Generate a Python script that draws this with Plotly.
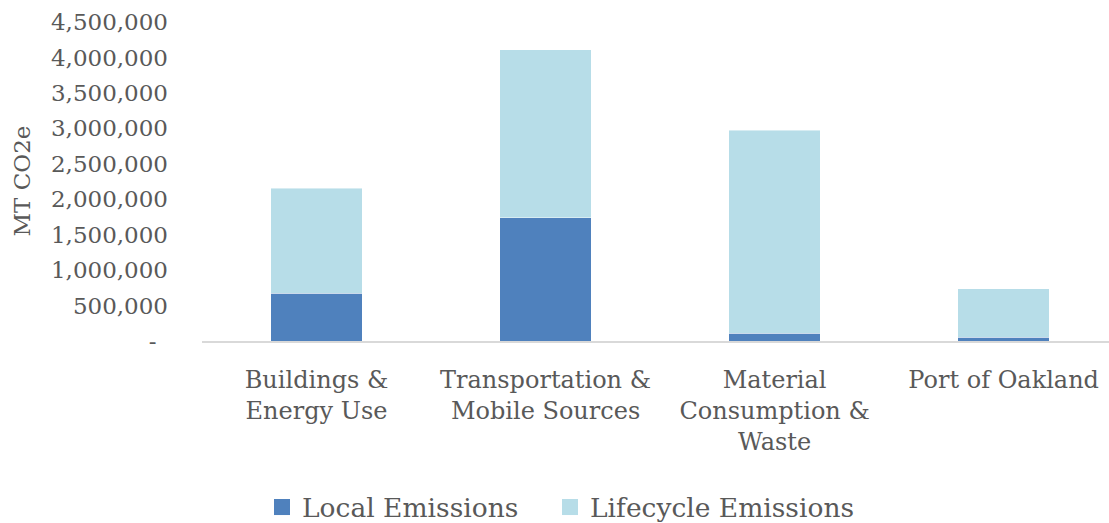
import plotly.graph_objects as go

# Emissions by sector, metric tons CO2e
categories = [
    "Buildings &<br>Energy Use",
    "Transportation &<br>Mobile Sources",
    "Material<br>Consumption &<br>Waste",
    "Port of Oakland",
]
local_emissions = [675000, 1740000, 112000, 50000]
lifecycle_emissions = [1478000, 2366000, 2864000, 690000]

series_names = ["Local Emissions", "Lifecycle Emissions"]
series_colors = ["#4F81BD", "#B7DDE8"]

y_tick_values = [0, 500000, 1000000, 1500000, 2000000, 2500000,
                 3000000, 3500000, 4000000, 4500000]
y_tick_text = ["-\u2002" if v == 0 else f"{v:,}" for v in y_tick_values]

FONT = "DejaVu Serif"
TEXT_COLOR = "#595959"
EDGE = dict(color="rgba(255,255,255,0.45)", width=1)

fig = go.Figure()
for name, values, color in zip(series_names,
                               [local_emissions, lifecycle_emissions],
                               series_colors):
    fig.add_trace(go.Bar(
        x=categories, y=values, name=name, showlegend=False,
        marker=dict(color=color, line=EDGE),
    ))

# square legend keys, one legend box per series
legend_ids = ["legend", "legend2"]
for name, color, lg in zip(series_names, series_colors, legend_ids):
    fig.add_trace(go.Scatter(
        x=[None], y=[None], mode="markers", name=name, legend=lg,
        marker=dict(symbol="square", size=17, color=color),
    ))

legend_style = dict(
    orientation="h", xref="container", yref="container",
    xanchor="left", y=0.03, yanchor="middle",
    font=dict(size=26.5, family=FONT, color=TEXT_COLOR),
    bgcolor="rgba(0,0,0,0)",
)

fig.update_layout(
    barmode="stack",
    bargap=0.6,
    width=1109, height=523,
    margin=dict(l=202, r=0, t=22, b=182),
    paper_bgcolor="white", plot_bgcolor="white",
    font=dict(family=FONT, color=TEXT_COLOR),
    showlegend=True,
    legend=dict(x=262 / 1109, **legend_style),
    legend2=dict(x=550 / 1109, **legend_style),
    xaxis=dict(
        range=[-0.5, 3.46], showgrid=False, zeroline=False,
        showline=True, linecolor="#d9d9d9", linewidth=2,
        tickfont=dict(size=24, family=FONT, color=TEXT_COLOR),
        ticks="", ticklabelstandoff=16,
    ),
    yaxis=dict(
        range=[0, 4500000], showgrid=False, zeroline=False, showline=False,
        tickvals=y_tick_values, ticktext=y_tick_text,
        tickfont=dict(size=23, family=FONT, color=TEXT_COLOR),
        ticks="", ticklabelstandoff=33,
    ),
    annotations=[dict(
        text="MT CO2e", textangle=-90, showarrow=False,
        xref="paper", yref="paper", x=(21 - 202) / 907, y=0.5,
        xanchor="center", yanchor="middle",
        font=dict(size=23, family=FONT, color=TEXT_COLOR),
    )],
)

fig.write_html("out.html")
